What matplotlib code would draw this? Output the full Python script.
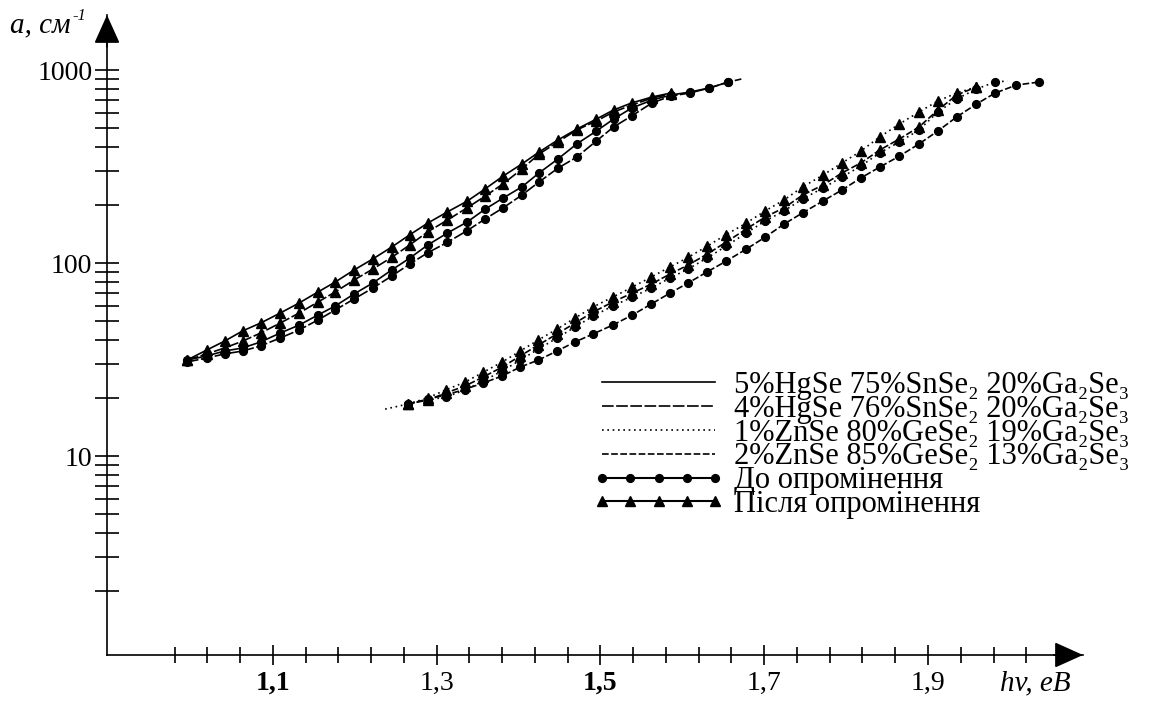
import matplotlib
matplotlib.use('Agg')
import matplotlib.pyplot as plt
from matplotlib.lines import Line2D

plt.rcParams['font.family'] = ['Liberation Serif', 'DejaVu Serif']

# ---------------- data ----------------
# HgSe-based glasses (left group)
x_hg = [0.995, 1.019, 1.041, 1.063, 1.085, 1.109, 1.132, 1.155, 1.176, 1.199,
        1.222, 1.245, 1.267, 1.289, 1.313, 1.337, 1.359, 1.381, 1.404, 1.425,
        1.448, 1.471, 1.495, 1.516, 1.538, 1.563, 1.586, 1.609, 1.633, 1.656]
x_hg_tail = 1.672

hg5_after = [31.4, 35.4, 39.4, 44.5, 48.9, 55.1, 62.1, 70.8, 79.7, 92.0,
             105, 121, 140, 161, 184, 209, 242, 282, 326, 376,
             434, 494, 557, 621, 675, 725, 760]
hg4_after = [31.4, 33.8, 36.3, 39.4, 43.4, 48.9, 55.1, 62.8, 70.8, 81.6,
             93.1, 107, 124, 145, 167, 193, 222, 257, 307, 367,
             424, 489, 545, 606, 658, 716, 751]
hg5_before = [31.4, 33.0, 35.0, 36.3, 39.0, 43.4, 47.7, 53.8, 59.9, 69.1,
              78.8, 92.0, 106, 124, 143, 163, 190, 217, 248, 293,
              346, 414, 483, 557, 635, 699, 742, 769, 807, 866]
hg4_before = [30.7, 32.2, 33.8, 35.0, 37.2, 40.9, 45.0, 50.7, 57.1, 65.1,
              74.2, 85.6, 98.8, 113, 128, 147, 169, 193, 225, 263,
              310, 354, 429, 507, 578, 675, 733, 760, 807, 866]
hg4_tail_value = 898

# ZnSe-based glasses (right group)
x_zn = [1.265, 1.289, 1.311, 1.335, 1.357, 1.380, 1.402, 1.424, 1.447, 1.469,
        1.491, 1.515, 1.539, 1.562, 1.585, 1.607, 1.630, 1.653, 1.678, 1.701,
        1.724, 1.747, 1.772, 1.795, 1.818, 1.841, 1.865, 1.889, 1.912, 1.935,
        1.959, 1.982, 2.008, 2.036]
x_zn1_head = 1.237
x_zn1_tail = 1.997

zn1_after = [18.6, 20.0, 22.0, 24.2, 27.2, 30.7, 35.0, 39.9, 45.5, 51.9,
             59.2, 66.6, 75.1, 84.6, 95.4, 107, 122, 140, 161, 186,
             212, 248, 286, 330, 380, 450, 525, 606, 691, 760, 817]
zn1_before = [18.6, 19.5, 20.2, 22.0, 24.5, 27.6, 31.4, 35.8, 40.9, 46.6,
              53.1, 59.9, 66.6, 74.2, 83.6, 93.1, 106, 122, 143, 165,
              186, 215, 245, 279, 318, 372, 424, 489, 606, 708, 797, 867]
zn1_head_value = 17.5
zn1_tail_value = 877
zn2_after = [18.6, 19.5, 21.2, 23.1, 25.7, 28.9, 33.0, 37.6, 42.9, 48.9,
             55.7, 62.8, 69.9, 77.8, 87.7, 97.6, 111, 128, 150, 173,
             193, 225, 254, 293, 330, 385, 439, 507, 620, 742, 817]
zn2_before = [18.6, 19.7, 20.7, 22.2, 23.9, 26.0, 28.9, 31.4, 35.0, 39.0,
              42.9, 47.7, 53.8, 61.3, 69.9, 78.8, 89.8, 102, 118, 136,
              159, 182, 210, 239, 276, 314, 358, 414, 483, 571,
              666, 760, 836, 867]

labels = ['5%HgSe 75%SnSe₂ 20%Ga₂Se₃',
          '4%HgSe 76%SnSe₂ 20%Ga₂Se₃',
          '1%ZnSe 80%GeSe₂ 19%Ga₂Se₃',
          '2%ZnSe 85%GeSe₂ 13%Ga₂Se₃',
          'До опромінення',
          'Після опромінення']

x_major = [1.1, 1.3, 1.5, 1.7, 1.9]
x_major_labels = ['1,1', '1,3', '1,5', '1,7', '1,9']
x_minor = [0.98, 1.02, 1.06, 1.14, 1.18, 1.22, 1.26, 1.34, 1.38, 1.42, 1.46,
           1.54, 1.58, 1.62, 1.66, 1.74, 1.78, 1.82, 1.86, 1.94, 1.98, 2.02]
y_major = [10, 100, 1000]
y_major_labels = ['10', '100', '1000']
y_minor = [2, 3, 4, 5, 6, 7, 8, 9, 20, 30, 40, 50, 60, 70, 80, 90,
           200, 300, 400, 500, 600, 700, 800, 900]

# ---------------- styles ----------------
ls_hg5 = '-'
ls_hg4 = (0, (7, 1.5))
ls_zn1 = (0, (1, 2.2))
ls_zn2 = (0, (4, 1.5))
lw = 1.2
ms_c = 5.6
ms_t = 7.0

W, H = 1151, 702
fig = plt.figure(figsize=(W / 100, H / 100), dpi=100)
ax = fig.add_axes([107 / W, 1 - 655 / H, (1083 - 107) / W, (655 - 15) / H])
ax.set_yscale('log')
ax.set_xlim(0.8973, 2.0893)
ax.set_ylim(0.931, 1928)

# left group
ax.plot(x_hg[:27], hg5_after, color='k', lw=lw, ls=ls_hg5, marker='^', ms=ms_t)
ax.plot(x_hg[:27], hg4_after, color='k', lw=lw, ls=ls_hg4, marker='^', ms=ms_t)
ax.plot(x_hg, hg5_before, color='k', lw=lw, ls=ls_hg5, marker='o', ms=ms_c)
ax.plot(x_hg + [x_hg_tail], hg4_before + [hg4_tail_value], color='k', lw=lw,
        ls=ls_hg4, marker='o', ms=ms_c, markevery=slice(0, len(x_hg)))

# right group
ax.plot(x_zn[:31], zn1_after, color='k', lw=lw, ls=ls_zn1, marker='^', ms=ms_t)
ax.plot([x_zn1_head] + x_zn[:32] + [x_zn1_tail],
        [zn1_head_value] + zn1_before + [zn1_tail_value],
        color='k', lw=lw, ls=ls_zn1, marker='o', ms=ms_c,
        markevery=slice(1, 33))
ax.plot(x_zn[:31], zn2_after, color='k', lw=lw, ls=ls_zn2, marker='^', ms=ms_t)
ax.plot(x_zn, zn2_before, color='k', lw=lw, ls=ls_zn2, marker='o', ms=ms_c)

# axes look
for s in ['top', 'right']:
    ax.spines[s].set_visible(False)
for s in ['left', 'bottom']:
    ax.spines[s].set_linewidth(1.2)

ax.set_xticks(x_major)
ax.set_xticklabels(x_major_labels)
ax.set_xticks(x_minor, minor=True)
ax.set_yticks(y_major)
ax.set_yticklabels(y_major_labels)
ax.set_yticks(y_minor, minor=True)
ax.yaxis.set_minor_formatter(matplotlib.ticker.NullFormatter())
ax.tick_params(axis='x', which='major', direction='inout', length=15, width=1.2,
               labelsize=20, pad=4)
ax.tick_params(axis='x', which='minor', direction='inout', length=11, width=1.2)
ax.tick_params(axis='y', which='both', direction='inout', length=17, width=1.2,
               labelsize=20, pad=2)
for lbl in ax.get_xticklabels():
    if lbl.get_text() in ('1,1', '1,5'):
        lbl.set_fontweight('bold')

# arrows
ax.annotate('', xy=(0, 1), xycoords='axes fraction', xytext=(0, 0.95),
            arrowprops=dict(arrowstyle='-|>,head_length=1.0,head_width=0.45',
                            color='k', lw=1.2, shrinkA=0, shrinkB=0,
                            mutation_scale=18), annotation_clip=False)
ax.annotate('', xy=(1, 0), xycoords='axes fraction', xytext=(0.97, 0),
            arrowprops=dict(arrowstyle='-|>,head_length=1.0,head_width=0.45',
                            color='k', lw=1.2, shrinkA=0, shrinkB=0,
                            mutation_scale=18), annotation_clip=False)

# axis titles
fig.text(10 / W, 1 - 25 / H, 'a, см', fontsize=21, style='italic',
         ha='left', va='center')
fig.text(72 / W, 1 - 16 / H, '-1', fontsize=12, style='italic',
         ha='left', va='center')
fig.text(1035 / W, 1 - 683 / H, 'hv, eB', fontsize=21, style='italic',
         ha='center', va='center')

# legend
handles = [Line2D([], [], color='k', lw=lw, ls=ls_hg5),
           Line2D([], [], color='k', lw=lw, ls=ls_hg4),
           Line2D([], [], color='k', lw=lw, ls=ls_zn1),
           Line2D([], [], color='k', lw=lw, ls=ls_zn2),
           Line2D([], [], color='k', lw=1.5, marker='o', ms=ms_c),
           Line2D([], [], color='k', lw=1.5, marker='^', ms=ms_t)]
ax.legend(handles, labels, loc='upper left',
          bbox_to_anchor=(593 / W, 1 - 371 / H), bbox_transform=fig.transFigure,
          frameon=False, numpoints=5, handlelength=4.3, handletextpad=0.3,
          labelspacing=-0.17, fontsize=22, borderpad=0, borderaxespad=0)

fig.savefig('out.png', dpi=100)
